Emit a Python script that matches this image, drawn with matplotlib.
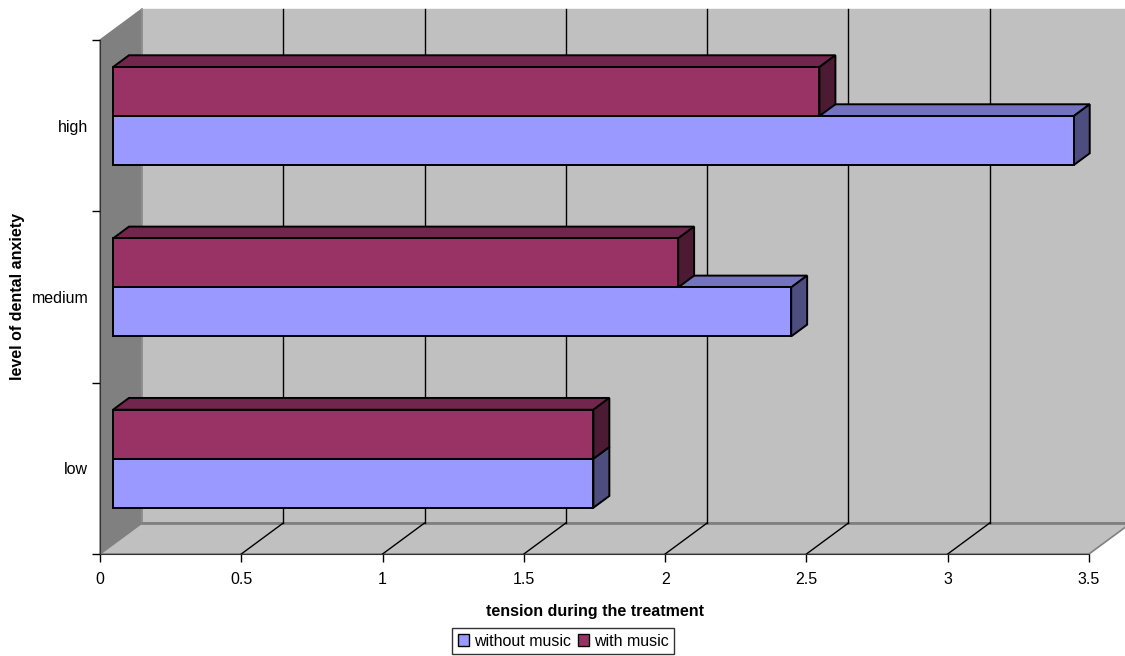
import matplotlib.pyplot as plt
from matplotlib.patches import Polygon, Patch
from matplotlib.colors import to_rgb

plt.rcParams['font.family'] = ['Liberation Sans', 'DejaVu Sans']

categories = ['low', 'medium', 'high']
without_music = [1.7, 2.4, 3.4]
with_music = [1.7, 2.0, 2.5]
series_names = ['without music', 'with music']
series_colors = ['#9999FF', '#993366']
xticks = [0, 0.5, 1, 1.5, 2, 2.5, 3, 3.5]

W, H = 1125, 656
fig = plt.figure(figsize=(W / 100, H / 100), dpi=100)
# front plane of the 3d plot area in pixels
left_px, right_px, top_px, bottom_px = 100, 1089, 40, 554
ax = fig.add_axes([left_px / W, 1 - bottom_px / H,
                   (right_px - left_px) / W, (bottom_px - top_px) / H])
ax.set_xlim(0, 3.5)
ax.set_ylim(0, 3)
ax.patch.set_visible(False)

# depth vector (data units) from front plane to back wall
sx = (right_px - left_px) / 3.5
sy = (bottom_px - top_px) / 3.0
DX, DY = 42 / sx, 31 / sy
f0, f1 = 0.31, 0.69  # bar front / back depth fractions


def shade(c, k):
    r, g, b = to_rgb(c)
    return (r * k, g * k, b * k)


def poly(pts, fc, ec, lw=1.0, z=1):
    ax.add_patch(Polygon(pts, closed=True, facecolor=fc, edgecolor=ec,
                         linewidth=lw, clip_on=False, zorder=z))


# walls and floor
xmax = 3.5
poly([(0, 0), (0, 3), (DX, 3 + DY), (DX, DY)], '#808080', '#808080', 1, 0.5)
poly([(DX, DY), (DX, 3 + DY), (xmax + DX, 3 + DY), (xmax + DX, DY)],
     '#C0C0C0', '#C0C0C0', 1, 0.4)
poly([(0, 0), (xmax, 0), (xmax + DX, DY), (DX, DY)], '#C0C0C0', '#808080', 1.2, 0.5)
ax.plot([DX, DX], [DY, 3 + DY], color='#909090', lw=1.2, clip_on=False, zorder=0.6)
ax.plot([DX, xmax + DX], [DY, DY], color='#808080', lw=2, clip_on=False, zorder=0.6)

# gridlines on back wall and floor
for v in xticks[1:-1]:
    ax.plot([v + DX, v + DX], [DY, 3 + DY], color='black', lw=1, clip_on=False, zorder=0.7)
    ax.plot([v, v + DX], [0, DY], color='black', lw=1, clip_on=False, zorder=0.7)


def bar3d(length, y0, h, color, z):
    ox, oy = f0 * DX, f0 * DY
    bx, by = (f1 - f0) * DX, (f1 - f0) * DY
    x1 = ox + length
    ya, yb = oy + y0, oy + y0 + h
    poly([(ox, yb), (x1, yb), (x1 + bx, yb + by), (ox + bx, yb + by)],
         shade(color, 0.75), 'black', 1.4, z)
    poly([(x1, ya), (x1 + bx, ya + by), (x1 + bx, yb + by), (x1, yb)],
         shade(color, 0.5), 'black', 1.4, z)
    poly([(ox, ya), (x1, ya), (x1, yb), (ox, yb)], color, 'black', 1.4, z)


bh = 49 / sy
for i in range(len(categories)):
    c = i + 0.5
    bar3d(without_music[i], c - bh, bh, series_colors[0], 2 + i * 0.1)
    bar3d(with_music[i], c, bh, series_colors[1], 2.05 + i * 0.1)

# axes
for s in ['top', 'right']:
    ax.spines[s].set_visible(False)
ax.spines['left'].set_color('#333333')
ax.spines['bottom'].set_color('#333333')
ax.spines['left'].set_zorder(3)
ax.spines['bottom'].set_zorder(3)
ax.set_xticks(xticks)
ax.set_xticklabels([('%g' % t) for t in xticks])
ax.set_yticks([0, 1, 2, 3])
ax.set_yticklabels([])
ax.set_yticks([0.5, 1.5, 2.5], minor=True)
ax.set_yticklabels(categories, minor=True)
ax.tick_params(axis='x', direction='out', length=6, width=1, pad=7, labelsize=11.5)
ax.tick_params(axis='y', which='major', direction='out', length=6, width=1)
ax.tick_params(axis='y', which='minor', length=0, pad=8.5, labelsize=11.5)

ax.set_xlabel('tension during the treatment', fontsize=11.5, fontweight='bold', labelpad=12)
ax.set_ylabel('level of dental anxiety', fontsize=11.5, fontweight='bold')
ax.yaxis.set_label_coords((25 - left_px) / (right_px - left_px), 0.5)

handles = [Patch(facecolor=series_colors[k], edgecolor='black', label=series_names[k])
           for k in range(2)]
leg = fig.legend(handles=handles, loc='center', bbox_to_anchor=(563 / W, 1 - 641 / H),
                 ncol=2, fontsize=11.5, frameon=True, fancybox=False,
                 handlelength=0.7, handleheight=0.7, handletextpad=0.3,
                 columnspacing=0.45, borderpad=0.35, borderaxespad=0)
leg.get_frame().set_edgecolor('black')
leg.get_frame().set_linewidth(1)

fig.savefig('out.png', dpi=100)
